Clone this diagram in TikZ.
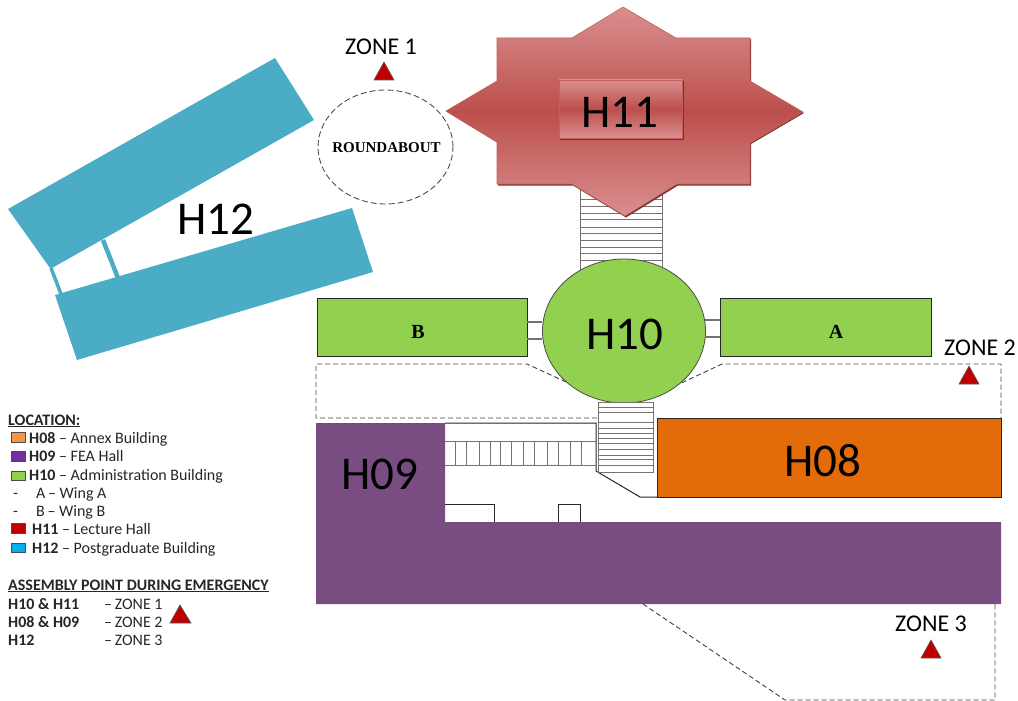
\documentclass[tikz,border=0pt]{standalone}
\usepackage{fontspec}
\setmainfont{Carlito}
\newfontfamily\serifb{Liberation Serif}[BoldFont={Liberation Serif Bold}]
\usetikzlibrary{shapes.geometric}
\definecolor{blueb}{HTML}{4BACC6}
\definecolor{greenb}{HTML}{92D050}
\definecolor{purpleb}{HTML}{7A4D82}
\definecolor{orangeb}{HTML}{E36C09}
\definecolor{redlight}{HTML}{D98F8F}
\definecolor{redmid}{HTML}{BC4F4C}
\definecolor{redshadow}{HTML}{7A2E2C}
\definecolor{trired}{HTML}{C00000}
\definecolor{legorange}{HTML}{F79646}
\definecolor{legpurple}{HTML}{7030A0}
\definecolor{legblue}{HTML}{00B0F0}
\tikzset{
  x=1pt,y=-1pt,
  bigtext/.style={font=\fontsize{47}{50}\selectfont,inner sep=0pt,text=black},
  zonetext/.style={font=\fontsize{24}{26}\selectfont,inner sep=0pt},
  legendtext/.style={font=\fontsize{16}{18}\selectfont,inner sep=0pt,anchor=base west,text=black!85},
  wingtext/.style={font=\serifb\bfseries\fontsize{20}{22}\selectfont,inner sep=0pt},
  zonetri/.style={fill=trired,draw=black!65,line width=0.6pt},
  rung/.style={draw=black!55,line width=1pt},
  wall/.style={draw=black!85,line width=1pt},
  dashline/.style={draw=black!75,dashed,dash pattern=on 5pt off 3pt,line width=0.9pt},
  swatch/.style={draw=black!70,line width=0.8pt},
  bluebar/.style={fill=blueb,draw=none},
  starfill/.style={top color=redlight,bottom color=redlight,middle color=redmid,draw=redmid!90!white,line width=0.6pt},
  wingbox/.style={fill=greenb,draw=black!85,line width=0.8pt},
}
\begin{document}
\begin{tikzpicture}
\useasboundingbox (0,0) rectangle (1018,701);
% H12
\fill[bluebar] (8,209) -- (275,58) -- (314,120) -- (52,268) -- (50,268) -- cycle;
\fill[bluebar] (55,295) -- (352,208) -- (373,272) -- (77,360) -- cycle;
\draw[blueb,line width=3.5pt] (51,268) -- (61,294);
\draw[blueb,line width=4.5pt] (103,240) -- (118,278);
\node[bigtext] (h12) at (216,219) {H12};
% roundabout
\node[ellipse,draw=black!70,dashed,dash pattern=on 6pt off 3pt,line width=0.9pt,minimum width=135pt,minimum height=114pt,inner sep=0pt] (round) at (385.5,147) {};
\node[font=\serifb\bfseries\fontsize{15}{17}\selectfont,inner sep=0pt] (roundt) at (386.5,148) {ROUNDABOUT};
% stairs H11-H10
\draw[rung,fill=white] (580,184) rectangle (662,270);
\foreach \y in {199,206,213,219,227,233,240,247,253,260}{\draw[rung] (580,\y) -- (662,\y);}
% dashed zone 2 outline
\draw[dashline] (597,418) -- (316,418) -- (316,364) -- (527,364) -- (590,393);
\draw[dashline] (660,393) -- (722,364) -- (1001,364) -- (1001,418);
% wings and links
\node[wingbox,minimum width=210pt,minimum height=58pt,inner sep=0pt] (wingb) at (422,327) {};
\node[wingbox,minimum width=211pt,minimum height=58pt,inner sep=0pt] (winga) at (825.5,327) {};
\node[wingtext] (alabel) at (836,332) {A};
\node[wingtext] (blabel) at (418,332) {B};
% H10
\node[ellipse,fill=greenb,draw=black!70,line width=0.8pt,minimum width=163pt,minimum height=144pt,inner sep=0pt] (h10) at (624,331) {};
\node[bigtext] (h10t) at (625,334) {H10};
\draw[draw=black!55,line width=1.2pt] (527,322) -- (542,322) (527,339) -- (542,339);
\draw[draw=black!55,line width=1.2pt] (705,320) -- (720,320) (705,337) -- (720,337);
% H09
\fill[purpleb] (316,423) -- (445,423) -- (445,522) -- (1001,522) -- (1001,604) -- (316,604) -- cycle;
\node[bigtext] (h09) at (380,474) {H09};
% corridor
\draw[wall] (445,423) -- (596,423) -- (596,471) -- (640,497) -- (657,497);
\draw[rung] (445,441) -- (596,441) (445,465) -- (596,465);
\foreach \x in {455,466,479,490,500,511,523,534,547,558,570,581}{\draw[rung] (\x,441) -- (\x,465);}
% lower stairs
\draw[rung,fill=white] (598,402) rectangle (653,472);
\foreach \y in {407,412,422,428,433,438,443,449,455,459,465}{\draw[rung] (598,\y) -- (653,\y);}
% H08
\draw[fill=orangeb,draw=black!85,line width=0.8pt] (657,418) rectangle (1001,497);
\node[bigtext] (h08) at (823,461) {H08};
\draw[wall] (445,504) -- (494,504) -- (494,522);
\draw[wall] (558,522) -- (558,504) -- (580,504) -- (580,522);
% zone 3 outline
\draw[dashline] (643,604) -- (785,700) -- (995,700) -- (995,604);
% H11
\fill[redshadow] (624,8) -- (677,39) -- (751,39) -- (751,82) -- (804,113) -- (751,144) -- (751,185.5) -- (678,185.5) -- (626,217.5) -- (573,185.5) -- (498,185.5) -- (498,143) -- (447,112) -- cycle;
\shade[starfill] (623,7) -- (676,38) -- (750,38) -- (750,81) -- (803,112) -- (750,143) -- (750,184) -- (677,184) -- (625,216) -- (572,184) -- (497,184) -- (497,142) -- (446,111) -- (497,81) -- (497,38) -- (572,38) -- cycle;
\fill[redshadow] (560,81) rectangle (683.5,140);
\shade[starfill] (559,80) rectangle (682,138);
\node[bigtext] (h11) at (620,112) {H11};
% zones
\node[zonetext] (z1) at (381,47) {ZONE 1};
\draw[zonetri] (384,62) -- (394,80) -- (374,80) -- cycle;
\node[zonetext] (z2) at (980,348) {ZONE 2};
\draw[zonetri] (969,366) -- (979,384) -- (959,384) -- cycle;
\node[zonetext] (z3) at (931,624) {ZONE 3};
\draw[zonetri] (931,640) -- (941,658) -- (921,658) -- cycle;
% legend
\node[legendtext] (l0) at (8,425) {\textbf{\underline{LOCATION:}}};
\draw[swatch,fill=legorange] (11,432) rectangle (25,442);
\node[legendtext] (l1) at (29,443) {\textbf{H08} -- Annex Building};
\draw[swatch,fill=legpurple] (11,451) rectangle (25,461);
\node[legendtext] (l2) at (29,461) {\textbf{H09} -- FEA Hall};
\draw[swatch,fill=greenb] (11,471) rectangle (25,480);
\node[legendtext] (l3) at (29,480) {\textbf{H10} -- Administration Building};
\node[legendtext] (d1) at (13,498) {-};
\node[legendtext] (l4) at (36,498) {A\,-- Wing A};
\node[legendtext] (d2) at (13,516) {-};
\node[legendtext] (l5) at (36,516) {B\,-- Wing B};
\draw[swatch,fill=trired] (11,523) rectangle (25,533);
\node[legendtext] (l6) at (32,534) {\textbf{H11} -- Lecture Hall};
\draw[swatch,fill=legblue] (11,543) rectangle (25,552);
\node[legendtext] (l7) at (32,553) {\textbf{H12} -- Postgraduate Building};
\node[legendtext] (a0) at (8,590) {\textbf{\underline{ASSEMBLY POINT DURING EMERGENCY}}};
\node[legendtext] (a1) at (8,609) {\textbf{H10 \& H11}};
\node[legendtext] (a1z) at (104,609) {--\,ZONE 1};
\node[legendtext] (a2) at (8,627) {\textbf{H08 \& H09}};
\node[legendtext] (a2z) at (104,627) {--\,ZONE 2};
\node[legendtext] (a3) at (8,645) {\textbf{H12}};
\node[legendtext] (a3z) at (104,645) {--\,ZONE 3};
\draw[zonetri] (180,605) -- (191,623) -- (170,623) -- cycle;
\end{tikzpicture}
\end{document}
